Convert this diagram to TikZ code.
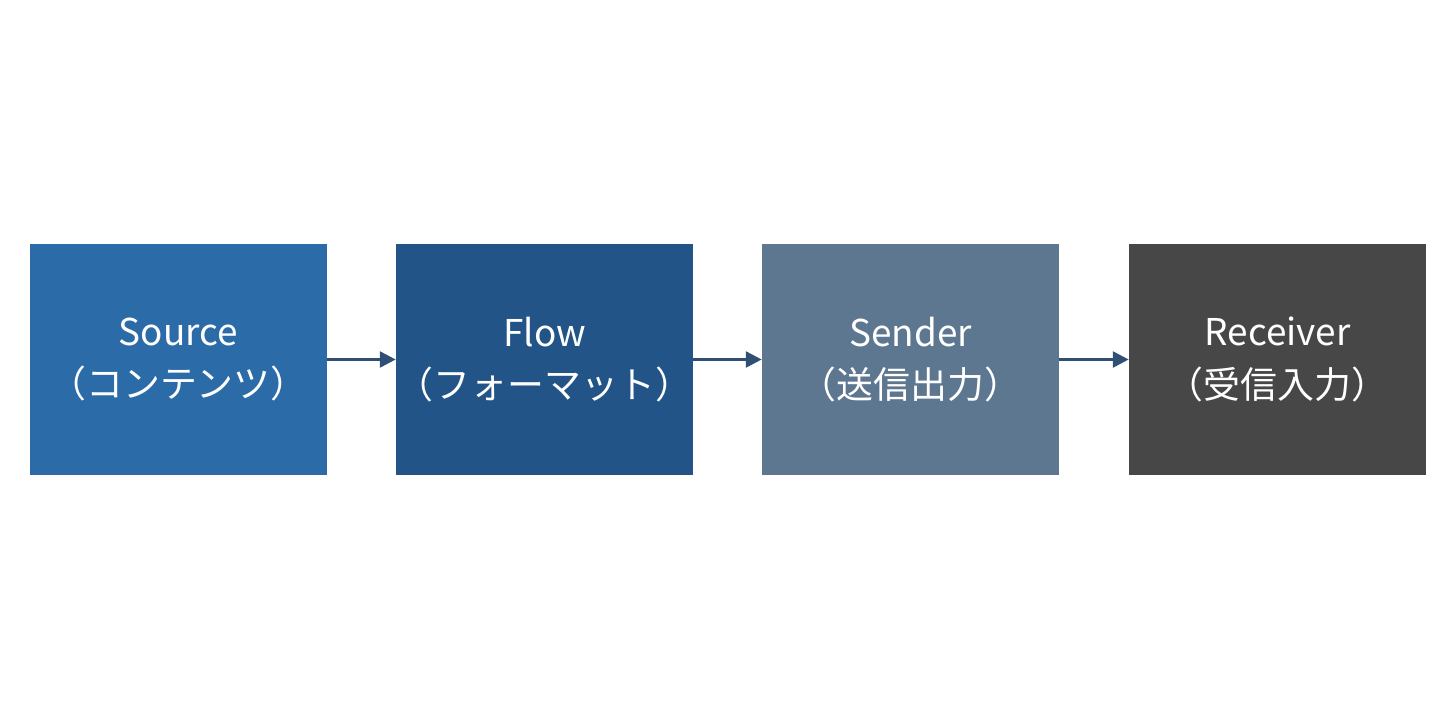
\documentclass[tikz,border=0pt]{standalone}
\usepackage{fontspec}
\setmainfont{Noto Sans CJK JP}
\usetikzlibrary{arrows.meta}
\definecolor{cA}{HTML}{2B6CA8}
\definecolor{cB}{HTML}{235488}
\definecolor{cC}{HTML}{5E7790}
\definecolor{cD}{HTML}{474747}
\definecolor{arr}{HTML}{2F4F75}
\begin{document}
\begin{tikzpicture}[x=0.02cm,y=-0.02cm,
 box/.style={minimum width=5.94cm,minimum height=4.62cm,inner sep=0,text=white,align=center,font=\fontsize{21}{30}\selectfont},
 conn/.style={draw=arr,line width=1.6pt,-{Triangle[length=9pt,width=9pt]}}]
\useasboundingbox (0,0) rectangle (1456,720);
\node[box,fill=cA] (s) at (178.5,359.5) {Source\\（コンテンツ）};
\node[box,fill=cB] (f) at (544.5,359.5) {Flow\\（フォーマット）};
\node[box,fill=cC] (d) at (910.5,359.5) {Sender\\（送信出力）};
\node[box,fill=cD] (r) at (1277.5,359.5) {Receiver\\（受信入力）};
\draw[conn] (s) -- (f);
\draw[conn] (f) -- (d);
\draw[conn] (d) -- (r);
\end{tikzpicture}
\end{document}
